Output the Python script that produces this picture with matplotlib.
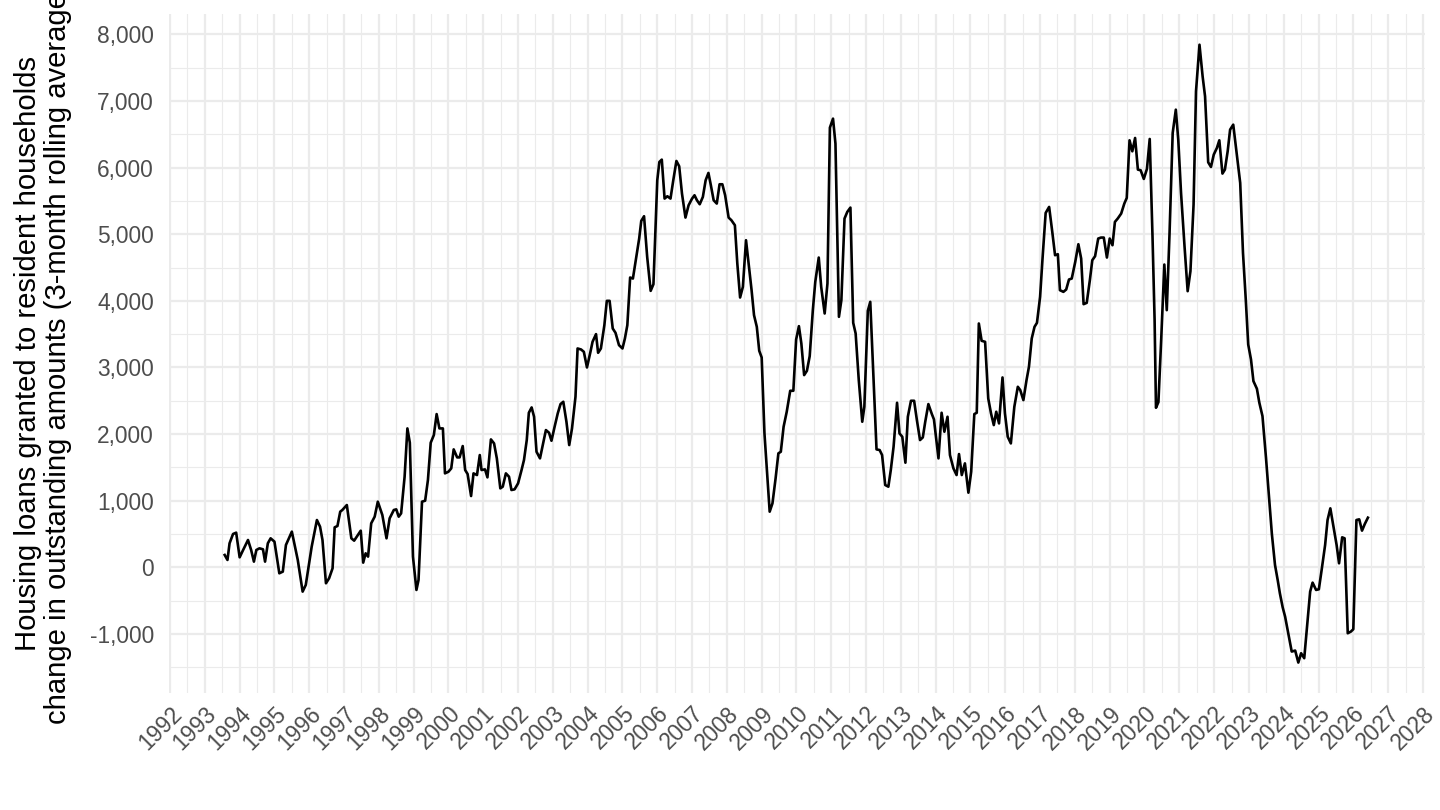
import matplotlib.pyplot as plt
import numpy as np

plt.rcParams['font.family'] = ['Liberation Sans', 'DejaVu Sans']

# time (decimal year)
years = [
    1993.57, 1993.65, 1993.71, 1993.81, 1993.90,
    1994.00, 1994.10, 1994.24, 1994.33, 1994.41, 1994.48, 1994.57, 1994.67, 1994.73, 1994.81, 1994.89,
    1995.00, 1995.14, 1995.24, 1995.33, 1995.50, 1995.67, 1995.81, 1995.90,
    1996.07, 1996.22, 1996.31, 1996.38, 1996.48, 1996.57, 1996.67, 1996.73, 1996.81, 1996.89, 1996.95,
    1997.08, 1997.21, 1997.29, 1997.38, 1997.48, 1997.55, 1997.62, 1997.69, 1997.78, 1997.88, 1997.97,
    1998.10, 1998.22, 1998.31, 1998.43, 1998.50, 1998.57, 1998.64, 1998.74, 1998.82, 1998.89, 1998.98,
    1999.08, 1999.14, 1999.24, 1999.33, 1999.41, 1999.49, 1999.58, 1999.66, 1999.74, 1999.84, 1999.90,
    2000.00, 2000.08, 2000.15, 2000.25, 2000.32, 2000.41, 2000.48, 2000.55, 2000.65, 2000.72, 2000.82, 2000.90, 2000.95,
    2001.05, 2001.12, 2001.22, 2001.31, 2001.39, 2001.49, 2001.56, 2001.65, 2001.74, 2001.81, 2001.90,
    2002.00, 2002.10, 2002.17, 2002.25, 2002.31, 2002.39, 2002.46, 2002.53, 2002.63, 2002.72, 2002.80, 2002.89, 2002.96,
    2003.05, 2003.14, 2003.22, 2003.30, 2003.39, 2003.47, 2003.55, 2003.65, 2003.71, 2003.81, 2003.89, 2003.98,
    2004.08, 2004.14, 2004.24, 2004.30, 2004.38, 2004.48, 2004.55, 2004.63, 2004.72, 2004.80, 2004.90,
    2005.00, 2005.07, 2005.14, 2005.22, 2005.30, 2005.39, 2005.48, 2005.54, 2005.62, 2005.71, 2005.81, 2005.89, 2005.95,
    2006.00, 2006.06, 2006.13, 2006.21, 2006.29, 2006.38, 2006.46, 2006.55, 2006.63, 2006.71, 2006.81, 2006.90,
    2007.00, 2007.07, 2007.14, 2007.22, 2007.31, 2007.39, 2007.47, 2007.54, 2007.62, 2007.71, 2007.79, 2007.87, 2007.95,
    2008.05, 2008.13, 2008.23, 2008.30, 2008.38, 2008.46, 2008.55, 2008.63, 2008.71, 2008.78, 2008.86, 2008.93,
    2009.00, 2009.08, 2009.15, 2009.23, 2009.31, 2009.40, 2009.48, 2009.55, 2009.63, 2009.72, 2009.82, 2009.91, 2009.99,
    2010.07, 2010.14, 2010.22, 2010.30, 2010.38, 2010.47, 2010.54, 2010.64, 2010.71, 2010.81, 2010.89, 2010.96,
    2011.05, 2011.12, 2011.22, 2011.29, 2011.38, 2011.46, 2011.55, 2011.63, 2011.70, 2011.79, 2011.89, 2011.95,
    2012.05, 2012.12, 2012.20, 2012.30, 2012.39, 2012.46, 2012.55, 2012.64, 2012.71, 2012.79, 2012.89, 2012.96,
    2013.04, 2013.13, 2013.20, 2013.29, 2013.38, 2013.46, 2013.55, 2013.63, 2013.70, 2013.79, 2013.89, 2013.95,
    2014.08, 2014.17, 2014.25, 2014.34, 2014.41, 2014.51, 2014.60, 2014.67, 2014.75, 2014.84, 2014.94,
    2015.02, 2015.11, 2015.18, 2015.24, 2015.32, 2015.42, 2015.51, 2015.59, 2015.67, 2015.74, 2015.82, 2015.92, 2015.99,
    2016.07, 2016.16, 2016.26, 2016.36, 2016.43, 2016.52, 2016.61, 2016.68, 2016.76, 2016.84, 2016.91,
    2017.00, 2017.07, 2017.16, 2017.26, 2017.35, 2017.43, 2017.51, 2017.57, 2017.67, 2017.75, 2017.83, 2017.91,
    2018.01, 2018.10, 2018.18, 2018.25, 2018.34, 2018.43, 2018.50, 2018.58, 2018.67, 2018.75, 2018.83, 2018.92,
    2019.00, 2019.08, 2019.15, 2019.23, 2019.33, 2019.42, 2019.49, 2019.57, 2019.65, 2019.73, 2019.81, 2019.89, 2019.98,
    2020.07, 2020.15, 2020.23, 2020.29, 2020.33, 2020.40, 2020.48, 2020.57, 2020.64, 2020.72, 2020.81, 2020.90, 2020.97,
    2021.05, 2021.15, 2021.24, 2021.32, 2021.41, 2021.48, 2021.58, 2021.67, 2021.74, 2021.83, 2021.91, 2021.99,
    2022.08, 2022.15, 2022.24, 2022.31, 2022.39, 2022.46, 2022.55, 2022.66, 2022.75, 2022.83, 2022.91, 2022.98,
    2023.06, 2023.13, 2023.23, 2023.30, 2023.39, 2023.49, 2023.58, 2023.66, 2023.75, 2023.83, 2023.89, 2023.97,
    2024.04, 2024.13, 2024.23, 2024.33, 2024.42, 2024.50, 2024.59, 2024.68, 2024.76, 2024.83, 2024.93,
    2025.01, 2025.09, 2025.19, 2025.26, 2025.34, 2025.43, 2025.52, 2025.59, 2025.68, 2025.75, 2025.84, 2025.93,
    2026.00, 2026.09, 2026.17, 2026.25, 2026.33, 2026.42,
]

# change in outstanding amounts, 3-month rolling average
loans = [
    185, 110, 360, 500, 520,
    150, 260, 410, 260, 85, 260, 285, 270, 85, 360, 435,
    385, -90, -65, 335, 535, 110, -365, -265,
    310, 710, 610, 410, -240, -165, -15, 600, 620, 835, 860,
    935, 435, 400, 470, 550, 70, 210, 160, 660, 760, 985,
    785, 435, 735, 860, 870, 760, 810, 1360, 2085, 1870, 160,
    -340, -190, 985, 1000, 1310, 1870, 1985, 2300, 2085, 2085, 1410,
    1435, 1485, 1770, 1650, 1650, 1820, 1460, 1400, 1070, 1410, 1385, 1685, 1460,
    1470, 1350, 1920, 1860, 1635, 1185, 1210, 1410, 1360, 1160, 1170,
    1260, 1460, 1610, 1910, 2320, 2400, 2260, 1735, 1635, 1860, 2060, 2020, 1900,
    2110, 2310, 2450, 2485, 2185, 1835, 2085, 2560, 3285, 3270, 3235, 3000,
    3235, 3385, 3500, 3220, 3285, 3635, 4000, 4000, 3585, 3520, 3335,
    3285, 3435, 3635, 4350, 4335, 4635, 4935, 5200, 5270, 4660, 4150, 4250, 5110,
    5810, 6085, 6120, 5535, 5570, 5535, 5810, 6100, 6020, 5610, 5250, 5435,
    5535, 5585, 5510, 5450, 5560, 5810, 5920, 5735, 5510, 5460, 5750, 5750, 5585,
    5250, 5210, 5135, 4560, 4050, 4210, 4910, 4535, 4160, 3785, 3610, 3250,
    3150, 2010, 1460, 835, 960, 1335, 1710, 1735, 2110, 2335, 2650, 2650, 3420,
    3620, 3360, 2885, 2950, 3170, 3860, 4285, 4650, 4210, 3810, 4260, 6600,
    6735, 6360, 3760, 4010, 5235, 5335, 5400, 3670, 3510, 2810, 2185, 2410,
    3850, 3985, 3010, 1770, 1760, 1685, 1235, 1210, 1460, 1810, 2470, 2010,
    1960, 1570, 2260, 2500, 2500, 2210, 1910, 1950, 2185, 2450, 2300, 2220,
    1635, 2320, 2035, 2260, 1685, 1485, 1385, 1700, 1385, 1560, 1120,
    1435, 2300, 2320, 3660, 3400, 3385, 2535, 2310, 2135, 2335, 2160, 2850, 2310,
    1960, 1860, 2410, 2710, 2660, 2510, 2810, 3010, 3435, 3610, 3670,
    4060, 4635, 5320, 5410, 5035, 4685, 4700, 4160, 4135, 4170, 4320, 4335,
    4585, 4850, 4635, 3950, 3970, 4310, 4610, 4670, 4935, 4950, 4950, 4650,
    4935, 4835, 5185, 5235, 5310, 5460, 5545, 6410, 6245, 6445, 5970, 5960, 5830,
    5980, 6430, 4970, 3720, 2395, 2480, 3420, 4545, 3860, 5020, 6520, 6870, 6420,
    5620, 4820, 4145, 4445, 5445, 7145, 7845, 7370, 7070, 6080, 6010, 6195,
    6295, 6410, 5910, 5970, 6245, 6570, 6645, 6170, 5770, 4720, 4020, 3345,
    3120, 2795, 2680, 2470, 2270, 1650, 1050, 500, 35, -200, -390, -600,
    -740, -990, -1265, -1250, -1430, -1290, -1365, -840, -365, -230, -340,
    -330, -40, 335, 710, 885, 610, 335, 60, 450, 435, -990, -965,
    -930, 710, 720, 550, 650, 745,
]

year_ticks = list(range(1992, 2029))
value_ticks = list(range(-1000, 8001, 1000))

W, H = 1440, 810
fig = plt.figure(figsize=(W / 100, H / 100), dpi=100)
ax = fig.add_axes([169 / W, 1 - 693 / H, (1425 - 169) / W, (693 - 14) / H])

ax.plot(years, loans, color='black', lw=1.9, solid_joinstyle='round')

ax.set_xlim(1991.97, 2028.06)
ax.set_ylim(-1887, 8306)
ax.set_xticks(year_ticks)
ax.set_xticks(np.arange(1992.5, 2028, 1), minor=True)
ax.set_yticks(value_ticks)
ax.set_yticks(range(-1500, 8001, 1000), minor=True)

#theme_minimal look
ax.grid(which='major', color='#EBEBEB', lw=1.6)
ax.grid(which='minor', color='#EBEBEB', lw=0.8)
ax.set_axisbelow(True)
for s in ax.spines.values():
    s.set_visible(False)
ax.tick_params(which='both', length=0)
ax.tick_params(axis='y', pad=10.8, labelsize=16.4, labelcolor='#4D4D4D')
ax.tick_params(axis='x', pad=6.5, labelsize=16.4, labelcolor='#4D4D4D')
ax.set_yticklabels([f'{y:,}' for y in value_ticks])
ax.set_xticklabels([str(y) for y in year_ticks], rotation=45, ha='right', va='top',
                   rotation_mode='anchor')

# long label runs off the top edge, same as the original
ax.set_ylabel('Housing loans granted to resident households\n'
              'change in outstanding amounts (3-month rolling average)',
              fontsize=21.1, linespacing=1.1)
ax.yaxis.set_label_coords(-0.077, 0.5)

fig.savefig('out.png', dpi=100)
